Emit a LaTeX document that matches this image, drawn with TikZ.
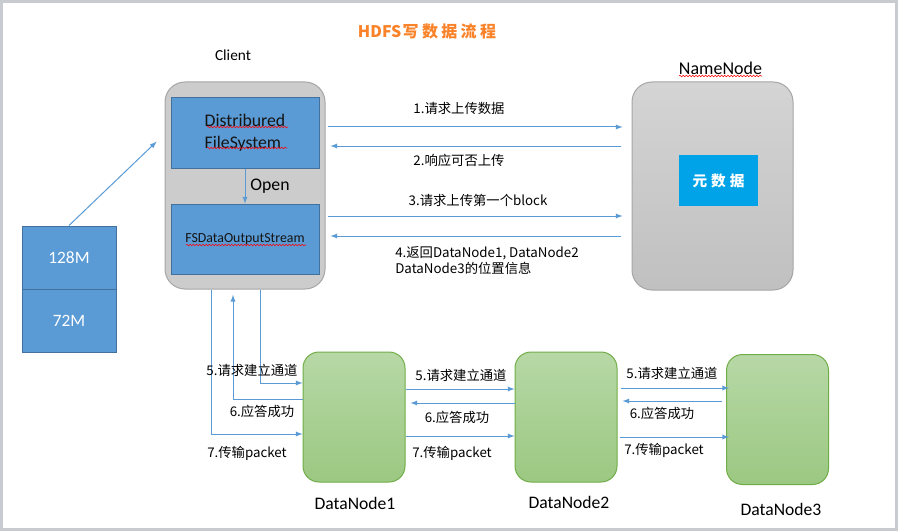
\documentclass[tikz,border=0pt]{standalone}
\usepackage{fontspec}
\setmainfont{Carlito}
\newfontfamily\cjk{Noto Sans CJK SC}
\usetikzlibrary{calc,arrows,decorations.pathmorphing}
\definecolor{arrowblue}{RGB}{91,155,213}
\definecolor{boxblue}{RGB}{91,155,213}
\definecolor{boxedge}{RGB}{65,113,156}
\definecolor{metablue}{RGB}{0,162,232}
\definecolor{titleorange}{RGB}{250,130,40}
\definecolor{clientgray}{RGB}{204,204,204}
\definecolor{grayedge}{RGB}{166,166,166}
\definecolor{nntop}{RGB}{212,212,212}
\definecolor{nnbot}{RGB}{192,192,192}
\definecolor{dntop}{RGB}{183,216,166}
\definecolor{dnbot}{RGB}{155,200,130}
\definecolor{dnedge}{RGB}{112,173,71}
\definecolor{framegray}{RGB}{200,204,208}
\definecolor{textdark}{RGB}{20,20,20}
\tikzstyle{arrow} = [->,>=latex,line width=0.75pt,color=arrowblue]
\tikzstyle{lbl} = [inner sep=0.75pt,font=\cjk\fontsize{10}{12}\selectfont]
\tikzstyle{bluebox} = [draw=boxedge,fill=boxblue,line width=0.75pt,minimum width=111pt,minimum height=52.5pt,text=textdark]
\tikzstyle{blockbox} = [draw=boxedge,fill=boxblue,line width=0.75pt,minimum width=70.5pt,minimum height=47.25pt,text=white,font=\fontsize{13}{15}\selectfont]
\tikzstyle{datanode} = [draw=dnedge,top color=dntop,bottom color=dnbot,rounded corners=12pt,line width=0.75pt,minimum width=76.5pt,minimum height=97.5pt]
\tikzstyle{spell} = [draw=red,decorate,decoration={snake,amplitude=0.6pt,segment length=2.4pt},line width=0.4pt]

\begin{document}
\begin{tikzpicture}[x=0.75pt,y=0.75pt,yscale=-1,xscale=1]
\useasboundingbox (0,0) rectangle (898,531);
\fill [white] (0,0) rectangle (898,531);
%Shape: Frame
\draw [color=framegray, line width=2.25pt] (1,1.5) rectangle (896.5,529);

% Text Node
\node (title) at (427,31) [inner sep=0.75pt, text=titleorange, font=\cjk\bfseries\fontsize{12}{14}\selectfont] {HDFS\hspace{1pt}写\hspace{2.5pt}数\hspace{2.5pt}据\hspace{2.5pt}流\hspace{2.5pt}程};

%Shape: Client
\node (client) at (245,185.5) [draw=grayedge, fill=clientgray, rounded corners=15pt, line width=0.75pt, minimum width=120pt, minimum height=155.25pt] {};
\node (dfs) at (245,133) [bluebox, align=left, font=\fontsize{13.3}{16.5}\selectfont] {Distribured\\FileSystem};
\node (fsdos) at (245,239) [bluebox, font=\fontsize{10.4}{12}\selectfont] {FSDataOutputStream};
\draw [arrow] (dfs) -- (fsdos);
% Text Node
\node (clientlbl) at (233,55) [inner sep=0.75pt, font=\fontsize{11.5}{14}\selectfont] {Client};
% Text Node
\node (open) at (270,186) [inner sep=0.75pt, font=\fontsize{13.3}{16}\selectfont] {Open};

%Shape: NameNode
\node (namenode) at (712.5,186) [draw=grayedge, top color=nntop, bottom color=nnbot, rounded corners=15pt, line width=0.75pt, minimum width=120.75pt, minimum height=156pt] {};
\node (meta) at (718.5,180.5) [fill=metablue, minimum width=59.25pt, minimum height=38.25pt, text=white, font=\cjk\bfseries\fontsize{11}{13}\selectfont] {元\hspace{3pt}数\hspace{3pt}据};
% Text Node
\node (nnlbl) at (720.5,68) [inner sep=0.75pt, font=\fontsize{13.5}{16}\selectfont] {NameNode};

%Shape: Blocks
\node (blk128) at (69,257.5) [blockbox] {128M};
\node (blk72) at (69,320.5) [blockbox] {72M};
\draw [arrow, shorten >=8.25pt] (blk128.north) -- (client.west |- 0,134);

%Shape: DataNodes
\node (dn1) at (354,417) [datanode] {};
\node (dn2) at (566,417) [datanode] {};
\node (dn3) at (777.5,419.5) [datanode] {};
% Text Node
\node (dn1lbl) at (355,503) [inner sep=0.75pt, font=\fontsize{13.2}{16}\selectfont] {DataNode1};
\node (dn2lbl) at (569,502) [inner sep=0.75pt, font=\fontsize{13.2}{16}\selectfont] {DataNode2};
\node (dn3lbl) at (781,509) [inner sep=0.75pt, font=\fontsize{13.2}{16}\selectfont] {DataNode3};

%Straight Lines: Client <-> NameNode
\draw [arrow, shorten <=1.5pt, shorten >=6.75pt] (client.east |- 0,127) -- (namenode.west |- 0,127);
\draw [arrow, shorten <=8.25pt, shorten >=3.75pt] (namenode.west |- 0,146) -- (client.east |- 0,146);
\draw [arrow, shorten <=1.5pt, shorten >=6.75pt] (client.east |- 0,216) -- (namenode.west |- 0,216);
\draw [arrow, shorten <=8.25pt, shorten >=3.75pt] (namenode.west |- 0,236) -- (client.east |- 0,236);
% Text Node
\node (msg1) at (459,108) [lbl] {1.请求上传数据};
\node (msg2) at (459,160) [lbl] {2.响应可否上传};
\node (msg3) at (478,200) [lbl] {3.请求上传第一个block};
\node (msg4) at (394,260.5) [lbl, anchor=west, align=left] {4.返回DataNode1, DataNode2\\DataNode3的位置信息};

%Straight Lines: Client <-> DataNode1
\draw [arrow] (client.south -| 260,0) |- (dn1.west |- 0,383);
\draw [arrow, shorten >=4pt] (dn1.west |- 0,399) -| (client.south -| 233,0);
\draw [arrow] (client.south -| 211,0) |- (dn1.west |- 0,434);
% Text Node
\node (req1) at (252,370) [lbl] {5.请求建立通道};
\node (ack1) at (262,411) [lbl] {6.应答成功};
\node (pkt1) at (247,453) [lbl] {7.传输packet};

%Straight Lines: DataNode1 <-> DataNode2
\draw [arrow] (dn1.east |- 0,389) -- (dn2.west |- 0,389);
\draw [arrow, shorten >=3.75pt] (dn2.west |- 0,403) -- (dn1.east |- 0,403);
\draw [arrow] (dn1.east |- 0,436) -- (dn2.west |- 0,436);
% Text Node
\node (req2) at (461,375) [lbl] {5.请求建立通道};
\node (ack2) at (457,417) [lbl] {6.应答成功};
\node (pkt2) at (452,453) [lbl] {7.传输packet};

%Straight Lines: DataNode2 <-> DataNode3
\draw [arrow, shorten <=2.25pt, shorten >=-2.25pt] (dn2.east |- 0,388) -- (dn3.west |- 0,388);
\draw [arrow, shorten <=3pt, shorten >=3.75pt] (dn3.west |- 0,401) -- (dn2.east |- 0,401);
\draw [arrow, shorten <=1.5pt, shorten >=-2.25pt] (dn2.east |- 0,437) -- (dn3.west |- 0,437);
% Text Node
\node (req3) at (672,373) [lbl] {5.请求建立通道};
\node (ack3) at (662,413) [lbl] {6.应答成功};
\node (pkt3) at (664,450) [lbl] {7.传输packet};

%Shape: spell check marks
\draw [spell] (207,127) -- (288,127);
\draw [spell] (207,148) -- (287,148);
\draw [spell] (186,245) -- (306,245);
\draw [spell] (679,76) -- (762,76);

\end{tikzpicture}
\end{document}
